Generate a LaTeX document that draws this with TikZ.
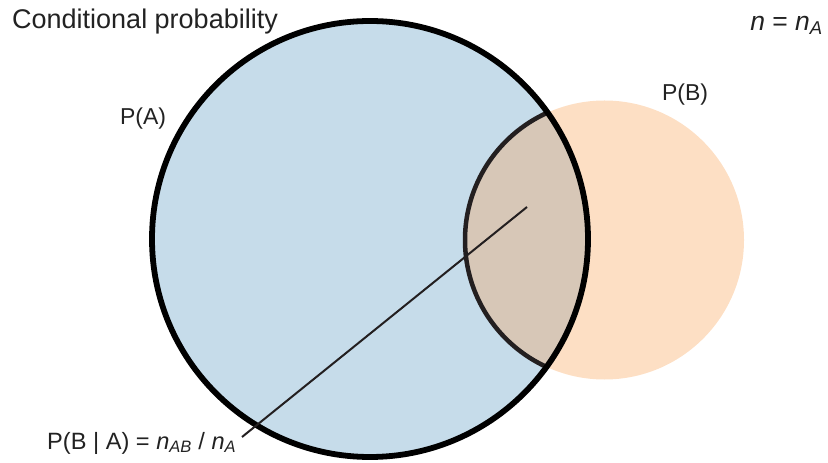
\documentclass[tikz,border=0pt]{standalone}
\usepackage{fontspec}
\setmainfont{Liberation Sans}
\definecolor{setA}{RGB}{198,220,234}
\definecolor{setB}{RGB}{253,223,196}
\definecolor{setAB}{RGB}{215,199,183}
\definecolor{ink}{RGB}{35,31,32}
\definecolor{txt}{RGB}{34,34,34}
\tikzset{
  lbl/.style={inner sep=0pt, text=txt, font=\fontsize{23bp}{27bp}\selectfont},
  eqlbl/.style={inner sep=0pt, text=txt, font=\fontsize{23.6bp}{27bp}\selectfont},
  nlbl/.style={inner sep=0pt, text=txt, font=\fontsize{26.5bp}{30bp}\selectfont},
  ttl/.style={inner sep=0pt, text=txt, font=\fontsize{27bp}{31bp}\selectfont},
}
\begin{document}
\begin{tikzpicture}[x=1bp,y=-1bp]
\useasboundingbox (0,0) rectangle (828,463);
\coordinate (ca) at (370,239);
\coordinate (cb) at (604.5,240);
% fills
\fill[setA] (ca) circle[radius=218bp];
\fill[setB] (cb) circle[radius=139.5bp];
\begin{scope}
  \clip (ca) circle[radius=218bp];
  \fill[setAB] (cb) circle[radius=139.5bp];
  \draw[ink, line width=4.5bp] (cb) circle[radius=139.5bp];
\end{scope}
\draw[black, line width=5.8bp] (ca) circle[radius=218bp];
% connector
\coordinate (lensc) at (527,207);
\coordinate (lblend) at (242,437);
\draw[ink, line width=2bp] (lensc) -- (lblend);
% texts
\node[ttl, anchor=west] (title) at (12,22) {Conditional probability};
\node[nlbl, anchor=east] (nn) at (823,25) {\textit{n} = \textit{n}\textsubscript{\textit{A}}};
\node[lbl] (pa) at (143,119) {P(A)};
\node[lbl] (pb) at (685,95) {P(B)};
\node[eqlbl, anchor=base west] (pba) at (47,449) {P(B | A) = \textit{n}\textsubscript{\textit{AB}} / \textit{n}\textsubscript{\textit{A}}};
\end{tikzpicture}
\end{document}
